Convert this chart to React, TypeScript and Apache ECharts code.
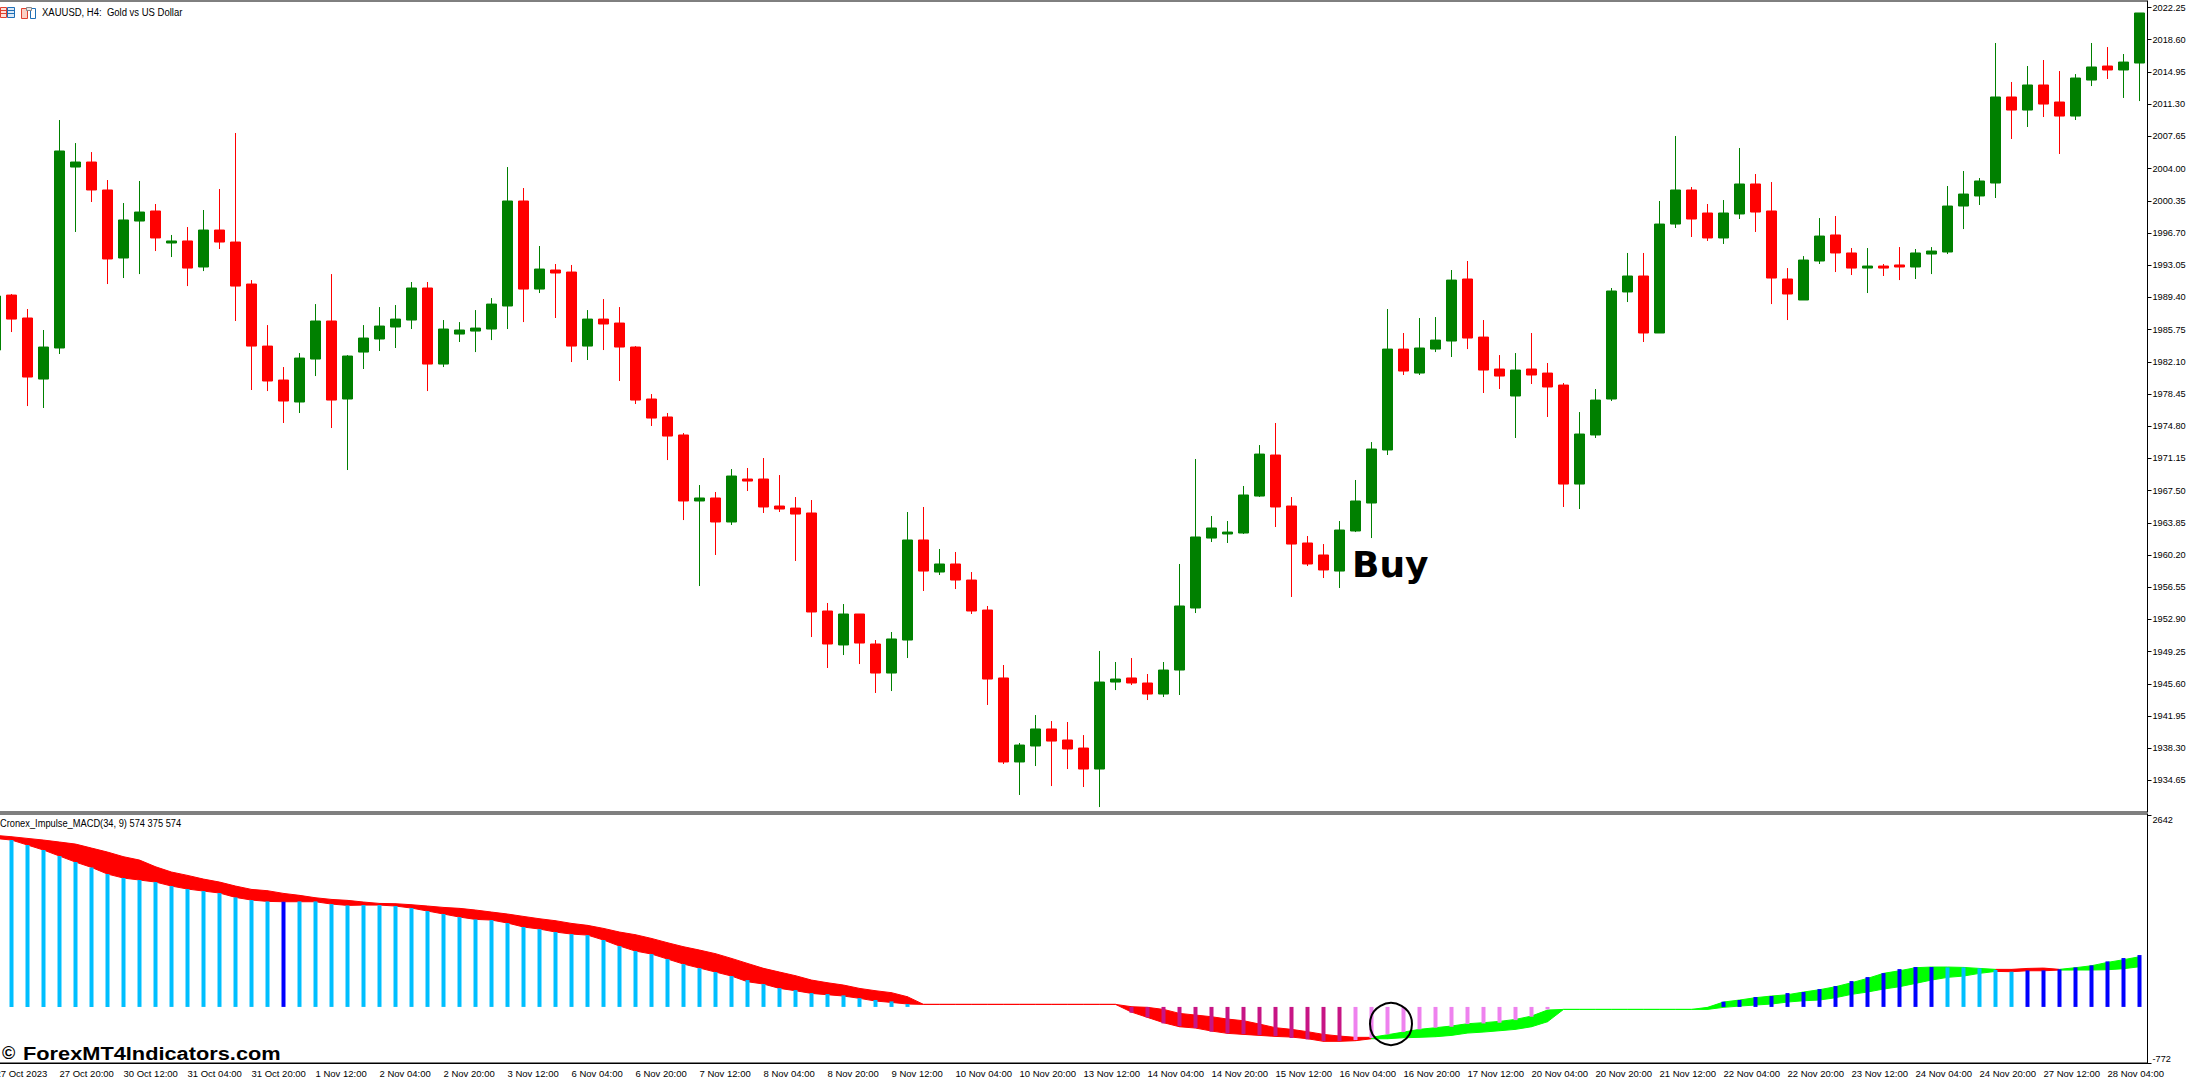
import React, { useEffect, useRef } from "react";
import * as echarts from "echarts";

const opens = [1983.43,
1989.66,1987.06,1980.14,1983.66,2004.17,2004.74,2001.57,1993.86,1998.05,1999.19,
1995.56,1995.79,1992.84,1997.03,1995.67,1990.91,1983.88,1980.03,1977.54,1982.41,
1986.72,1977.88,1983.20,1984.68,1986.04,1986.83,1990.46,1981.84,1985.24,1985.58,
1985.81,1988.42,2000.32,1990.34,1992.50,1992.27,1983.88,1986.94,1986.49,1983.77,
1977.88,1975.84,1973.80,1966.32,1966.66,1963.94,1968.81,1968.81,1965.75,1965.52,
1964.96,1953.85,1950.00,1953.51,1950.11,1946.82,1950.56,1961.90,1958.27,1959.18,
1957.36,1953.96,1946.26,1936.74,1938.55,1940.48,1939.23,1938.32,1935.94,1945.80,
1946.26,1945.69,1944.44,1947.16,1954.19,1962.12,1962.58,1962.69,1966.88,1971.53,
1965.75,1961.56,1960.20,1958.38,1962.92,1966.09,1972.10,1983.54,1980.82,1983.54,
1984.45,1991.48,1984.90,1981.28,1978.22,1981.28,1980.82,1979.46,1968.24,1973.80,
1977.88,1990.01,1991.82,1985.36,1997.71,2001.57,1998.96,1996.13,1998.85,2002.25,
1999.19,1991.48,1989.10,1993.52,1996.47,1994.43,1992.72,1992.95,1993.07,1992.84,
1994.31,1994.54,1999.75,2000.89,2002.36,2012.11,2010.63,2013.47,2011.54,2009.95,
2014.03,2015.62,2015.17,2015.96];

const closes = [1989.55,
1986.94,1980.37,1983.77,2005.99,2004.74,2001.57,1993.75,1998.17,1999.07,1996.13,
1995.79,1992.72,1997.03,1995.67,1990.68,1983.88,1979.92,1977.65,1982.52,1986.72,
1977.76,1982.75,1984.79,1986.15,1986.94,1990.46,1981.84,1985.81,1985.70,1985.92,
1988.64,2000.32,1990.34,1992.61,1992.16,1983.88,1986.94,1986.38,1983.77,1977.76,
1975.72,1973.68,1966.32,1966.66,1963.94,1969.15,1968.58,1965.64,1965.41,1964.84,
1953.74,1950.11,1953.51,1950.22,1946.82,1950.68,1961.90,1958.38,1959.18,1957.36,
1953.85,1946.14,1936.74,1938.66,1940.48,1939.11,1938.21,1935.94,1945.80,1946.14,
1945.69,1944.44,1947.16,1954.42,1962.24,1963.26,1962.80,1967.00,1971.64,1965.64,
1961.44,1959.18,1958.50,1963.03,1966.32,1972.21,1983.54,1981.05,1983.66,1984.56,
1991.36,1984.79,1981.16,1980.48,1981.16,1980.60,1979.24,1968.24,1973.91,1977.76,
1990.12,1991.82,1985.36,1997.71,2001.57,1998.28,1996.13,1998.96,2002.25,1999.07,
1991.59,1989.78,1993.63,1996.35,1994.43,1992.72,1992.95,1992.72,1992.84,1994.43,
1994.65,1999.75,2001.11,2002.59,2012.11,2010.63,2013.47,2011.31,2009.95,2014.26,
2015.51,2015.17,2016.07,2021.63];

const lows = [1983.43,
1985.47,1977.08,1976.86,1982.98,1996.81,2000.21,1990.91,1991.59,1992.04,1994.65,
1993.97,1990.68,1992.38,1994.88,1986.72,1978.90,1978.78,1975.16,1976.29,1980.48,
1974.59,1969.83,1981.28,1983.32,1983.66,1985.81,1978.78,1981.50,1984.34,1983.20,
1984.56,1985.81,1986.60,1989.89,1987.06,1982.07,1982.30,1983.43,1979.92,1977.31,
1974.82,1970.96,1964.16,1956.68,1960.20,1963.60,1967.45,1964.96,1965.07,1959.52,
1950.90,1947.39,1948.86,1947.84,1944.56,1944.78,1948.52,1956.12,1957.93,1956.34,
1953.51,1943.20,1936.51,1933.00,1936.28,1934.01,1935.94,1933.90,1931.63,1944.89,
1945.46,1943.76,1944.10,1944.33,1953.62,1961.67,1961.56,1962.58,1966.77,1963.37,
1955.44,1958.95,1957.59,1956.46,1962.80,1962.12,1971.53,1980.60,1980.60,1983.20,
1982.64,1983.54,1978.56,1979.01,1973.46,1979.58,1975.84,1965.64,1965.41,1973.46,
1977.65,1988.87,1984.34,1985.36,1997.26,1996.24,1995.79,1995.45,1998.28,1996.81,
1988.64,1986.83,1989.10,1993.18,1992.27,1991.93,1989.89,1991.82,1991.36,1991.48,
1992.04,1994.31,1997.14,1999.87,2000.66,2007.35,2008.71,2009.84,2005.65,2009.50,
2013.35,2014.15,2012.00,2011.65];

const highs = [1989.55,
1989.78,1988.08,1985.70,2009.50,2006.89,2005.87,2002.70,2000.09,2002.59,1999.98,
1996.47,1997.37,1999.30,2001.68,2008.03,1991.36,1986.26,1981.50,1983.09,1988.64,
1992.04,1982.86,1986.26,1988.30,1988.53,1991.14,1991.14,1986.83,1986.60,1987.96,
1989.32,2004.17,2001.79,1995.22,1993.18,1993.07,1987.96,1989.21,1988.30,1983.88,
1978.44,1976.29,1974.02,1968.13,1967.34,1969.94,1970.06,1971.19,1969.26,1966.77,
1966.43,1954.76,1954.64,1953.51,1950.56,1951.47,1965.07,1965.64,1960.88,1960.54,
1958.27,1954.42,1947.73,1938.89,1942.06,1941.38,1941.27,1939.79,1949.32,1948.07,
1948.52,1946.71,1948.07,1959.18,1971.08,1964.62,1964.05,1968.02,1972.66,1975.16,
1966.77,1962.35,1961.44,1964.05,1968.70,1973.00,1988.08,1985.36,1987.06,1987.17,
1992.50,1993.52,1986.83,1982.86,1983.09,1985.36,1981.96,1979.69,1976.40,1979.01,
1990.46,1994.43,1994.43,2000.32,2007.69,2001.91,1999.98,2000.43,2006.33,2003.38,
2002.47,1992.72,1994.08,1998.39,1998.62,1994.99,1994.99,1993.18,1995.10,1994.88,
1995.10,2002.02,2003.72,2002.93,2018.23,2013.81,2015.62,2016.30,2015.05,2014.71,
2018.23,2017.77,2016.98,2021.63];

const bandUpper = [2362,
2343,2320,2297,2270,2242,2187,2132,2068,2022,1930,
1857,1811,1760,1719,1664,1618,1600,1563,1536,1503,
1480,1467,1444,1425,1421,1407,1389,1370,1357,1334,
1306,1279,1246,1214,1187,1150,1123,1081,1031,994,
943,884,829,783,733,668,599,531,480,430,
370,333,301,255,223,196,140,35,35,35,
35,35,35,35,35,35,35,35,35,35,
3,-6,-34,-89,-112,-135,-167,-190,-236,-286,
-309,-341,-378,-401,-419,-419,-383,-346,-309,-286,
-263,-231,-217,-199,-172,-126,-43,-34,-34,-34,
-34,-34,-34,-34,-34,-34,-6,67,95,127,
150,168,205,237,278,333,393,462,498,540,
549,549,544,530,517,517,530,535,517,540,
567,613,650,691];

const bandLower = [2320,
2297,2229,2160,2077,1994,1921,1829,1774,1747,1719,
1664,1623,1595,1568,1508,1471,1453,1448,1448,1448,
1416,1398,1402,1402,1389,1361,1320,1279,1237,1205,
1196,1155,1100,1072,1031,1003,989,921,838,769,
728,659,590,535,480,425,347,315,255,223,
186,168,150,118,81,62,40,35,35,35,
35,35,35,35,35,35,35,35,35,35,
-71,-144,-217,-273,-291,-332,-364,-378,-392,-406,
-415,-438,-474,-474,-465,-438,-438,-424,-419,-410,
-392,-360,-346,-328,-309,-273,-204,-34,-34,-34,
-34,-34,-34,-34,-34,-34,-34,-6,12,26,
40,67,85,95,127,173,205,246,278,324,
370,407,425,462,489,485,498,498,507,508,
508,512,526,553];

const histogram: (number | null)[] = [2320,
2297,2229,2160,2077,1994,1921,1829,1774,1747,1719,
1664,1623,1595,1568,1508,1471,1453,1448,1453,1453,
1416,1398,1402,1402,1389,1361,1320,1279,1237,1205,
1196,1155,1100,1072,1031,1003,989,921,838,769,
728,659,590,535,480,425,370,315,260,232,
191,177,159,122,95,76,40,null,null,null,
null,null,null,null,null,null,null,null,null,null,
-80,-144,-227,-263,-291,-341,-364,-374,-387,-401,
-428,-447,-470,-470,-456,-428,-378,-346,-309,-286,
-273,-236,-227,-217,-181,-135,-34,null,null,null,
null,null,null,null,null,null,null,72,95,136,
150,191,205,246,287,356,411,466,521,549,
549,544,544,530,508,485,503,503,517,544,
572,627,673,714];

const priceTicks = [2022.25,2018.60,2014.95,2011.30,2007.65,2004.00,2000.35,1996.70,1993.05,1989.40,1985.75,1982.10,1978.45,1974.80,1971.15,1967.50,1963.85,1960.20,1956.55,1952.90,1949.25,1945.60,1941.95,1938.30,1934.65];
const macdTicks = [-772, 2642];
const timeLabels = ["27 Oct 2023","27 Oct 20:00","30 Oct 12:00","31 Oct 04:00","31 Oct 20:00","1 Nov 12:00","2 Nov 04:00","2 Nov 20:00","3 Nov 12:00","6 Nov 04:00","6 Nov 20:00","7 Nov 12:00","8 Nov 04:00","8 Nov 20:00","9 Nov 12:00","10 Nov 04:00","10 Nov 20:00","13 Nov 12:00","14 Nov 04:00","14 Nov 20:00","15 Nov 12:00","16 Nov 04:00","16 Nov 20:00","17 Nov 12:00","20 Nov 04:00","20 Nov 20:00","21 Nov 12:00","22 Nov 04:00","22 Nov 20:00","23 Nov 12:00","24 Nov 04:00","24 Nov 20:00","27 Nov 12:00","28 Nov 04:00"];

const categories = opens.map((_, i) => (i % 4 === 0 ? timeLabels[i / 4] ?? "" : ""));
const candles = opens.map((o, i) => [o, closes[i], lows[i], highs[i]]);

const AXIS_FONT = "'Liberation Sans', sans-serif";

const inRange = (i: number, ranges: number[][]) => ranges.some(([a, b]) => i >= a && i <= b);
const redSegments = [[0, 85], [125, 128]];
const darkBlueBars = [[18, 18], [108, 121], [127, 134]];
const magentaBars = [[71, 84]];
const violetBars = [[85, 97]];

const barColor = (i: number) =>
  inRange(i, magentaBars) ? "#C71585"
  : inRange(i, violetBars) ? "#EE82EE"
  : inRange(i, darkBlueBars) ? "#0000FF"
  : "#00BFFF";

const segments = bandUpper.slice(0, -1).map((u, i) => [i, u, bandLower[i], bandUpper[i + 1], bandLower[i + 1]]);

const renderBand = (color: string, wantRed: boolean) => (_: any, api: any) => {
  const i = api.value(0);
  if (inRange(i, redSegments) !== wantRed) return null;
  const a = api.coord([i, api.value(1)]);
  const b = api.coord([i + 1, api.value(3)]);
  const c = api.coord([i + 1, api.value(4)]);
  const d = api.coord([i, api.value(2)]);
  return {
    type: "polygon",
    shape: { points: [a, b, c, d] },
    style: { fill: color, stroke: color, lineWidth: 1 },
  };
};

const txt = (text: string, x: number, y: number, font: string, scaleX = 1) => ({
  type: "text",
  silent: true,
  x,
  y,
  scaleX,
  style: { text, x: 0, y: 0, font, fill: "#000", verticalAlign: "middle", align: "left" },
});
const box = (x: number, y: number, width: number, height: number, fill: string, stroke?: string) => ({
  type: "rect",
  silent: true,
  shape: { x: x + 0.5, y: y + 0.5, width, height },
  style: { fill, stroke: stroke ?? "none", lineWidth: 1 },
});

export default function App() {
  const ref = useRef<HTMLDivElement>(null);
  useEffect(() => {
    document.body.style.margin = "0";
    const chart = echarts.init(ref.current!, undefined, { renderer: "svg" });
    chart.setOption({
      animation: false,
      backgroundColor: "#fff",
      grid: [
        { left: -12.5, width: 2160, top: 1, height: 811, show: true, borderColor: "#000", borderWidth: 1, backgroundColor: "#fff", outerBoundsMode: "none" },
        { left: -12.5, width: 2160, top: 814, height: 249, show: true, borderColor: "#000", borderWidth: 1, backgroundColor: "#fff", outerBoundsMode: "none" },
      ],
      xAxis: [
        { type: "category", gridIndex: 0, data: categories, boundaryGap: true, show: false },
        {
          type: "category",
          gridIndex: 1,
          data: categories,
          boundaryGap: true,
          axisLine: { onZero: false, lineStyle: { color: "#000" } },
          axisTick: { alignWithLabel: true, length: 4, lineStyle: { color: "#000" }, interval: (i: number) => i % 4 === 0 },
          axisLabel: {
            interval: (i: number) => i % 4 === 0,
            align: "left",
            margin: 5,
            color: "#000",
            fontSize: 9.5,
            fontFamily: AXIS_FONT,
            hideOverlap: false,
          },
          splitLine: { show: false },
        },
      ],
      yAxis: [
        {
          type: "value",
          gridIndex: 0,
          position: "right",
          min: 1931.07,
          max: 2022.99,
          splitLine: { show: false },
          axisLine: { show: true, lineStyle: { color: "#000" } },
          axisTick: { show: true, length: 4, lineStyle: { color: "#000" }, customValues: priceTicks },
          axisLabel: {
            customValues: priceTicks,
            formatter: (v: number) => v.toFixed(2),
            margin: 5,
            color: "#000",
            fontSize: 9.2,
            fontFamily: AXIS_FONT,
          },
        },
        {
          type: "value",
          gridIndex: 1,
          position: "right",
          min: -772,
          max: 2656,
          splitLine: { show: false },
          axisLine: { show: true, lineStyle: { color: "#000" } },
          axisTick: { show: true, length: 4, lineStyle: { color: "#000" }, customValues: macdTicks },
          axisLabel: {
            customValues: macdTicks,
            formatter: (v: number) => String(v),
            margin: 5,
            color: "#000",
            fontSize: 9.2,
            fontFamily: AXIS_FONT,
            verticalAlignMaxLabel: "top",
            verticalAlignMinLabel: "bottom",
          },
        },
      ],
      series: [
        {
          type: "candlestick",
          xAxisIndex: 0,
          yAxisIndex: 0,
          barWidth: 10,
          data: candles,
          itemStyle: { color: "#008000", color0: "#FF0000", borderColor: "#008000", borderColor0: "#FF0000", borderWidth: 1 },
        },
        {
          type: "custom",
          name: "bandRed",
          xAxisIndex: 1,
          yAxisIndex: 1,
          z: 1,
          data: segments,
          encode: { x: 0, y: [1, 2, 3, 4] },
          renderItem: renderBand("#FF0000", true),
        },
        {
          type: "custom",
          name: "bandGreen",
          xAxisIndex: 1,
          yAxisIndex: 1,
          z: 1,
          data: segments,
          encode: { x: 0, y: [1, 2, 3, 4] },
          renderItem: renderBand("#00FF00", false),
        },
        {
          type: "bar",
          xAxisIndex: 1,
          yAxisIndex: 1,
          z: 2,
          barWidth: 4,
          data: histogram.map((v, i) => ({ value: v, itemStyle: { color: barColor(i) } })),
        },
      ],
      graphic: [
        box(0, 7, 6, 10, "#fde0d8", "#e0402f"),
        box(7, 7, 7, 10, "#dbe9f7", "#1f6fb5"),
        { type: "line", silent: true, shape: { x1: 1, y1: 10.5, x2: 6, y2: 10.5 }, style: { stroke: "#e0402f" } },
        { type: "line", silent: true, shape: { x1: 1, y1: 13.5, x2: 6, y2: 13.5 }, style: { stroke: "#e0402f" } },
        { type: "line", silent: true, shape: { x1: 8, y1: 10.5, x2: 14, y2: 10.5 }, style: { stroke: "#1f6fb5" } },
        { type: "line", silent: true, shape: { x1: 8, y1: 13.5, x2: 14, y2: 13.5 }, style: { stroke: "#1f6fb5" } },
        box(21, 8, 6, 10, "#fbd0c4", "#e0402f"),
        box(30, 8, 5, 10, "#ffffff", "#1f6fb5"),
        box(26, 7, 5, 3, "#e8e8e8", "#888888"),
        txt("XAUUSD, H4:  Gold vs US Dollar", 42, 12.5, `11px ${AXIS_FONT}`, 0.865),
        txt("Cronex_Impulse_MACD(34, 9) 574 375 574", 0, 823, `11px ${AXIS_FONT}`, 0.845),
        txt("Buy", 1352, 564, "bold 36px 'DejaVu Sans', sans-serif"),
        txt("\u00A9", 2, 1053, "bold 18px 'Liberation Sans', sans-serif"),
        txt("ForexMT4Indicators.com", 23, 1053.5, "bold 18px 'Liberation Sans', sans-serif", 1.21),
        {
          type: "circle",
          silent: true,
          shape: { cx: 1391, cy: 1024, r: 21 },
          style: { fill: "transparent", stroke: "#000", lineWidth: 2 },
          z: 100,
        },
      ],
    });
    return () => chart.dispose();
  }, []);
  return <div ref={ref} style={{ width: 2186, height: 1079, background: "#fff" }} />;
}
